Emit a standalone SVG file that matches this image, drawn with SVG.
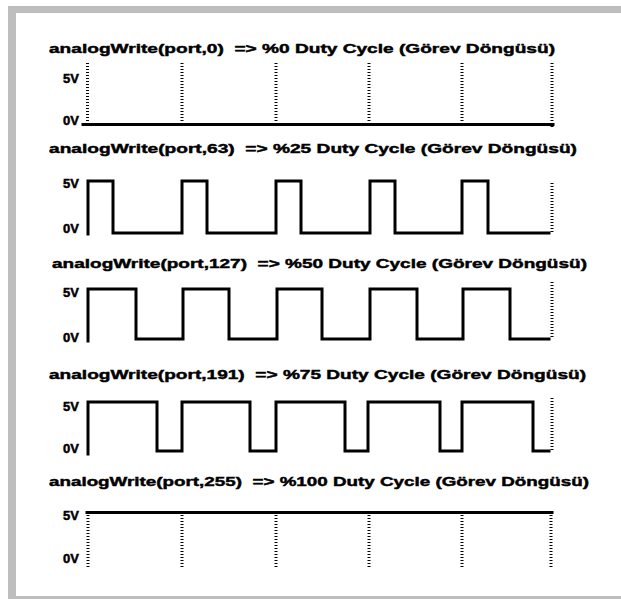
<svg xmlns="http://www.w3.org/2000/svg" width="621" height="599" viewBox="0 0 621 599">
<style>
.title{font-family:"Liberation Sans",Arial,sans-serif;font-weight:bold;font-size:13.5px;fill:#000;stroke:#000;stroke-width:0.45;white-space:pre}
.lbl{font-family:"Liberation Sans",Arial,sans-serif;font-weight:bold;font-size:13px;fill:#000;stroke:#000;stroke-width:0.5;text-anchor:end}
.wave{fill:none;stroke:#000;stroke-width:3;stroke-linejoin:miter;stroke-linecap:square}
.dot{fill:none;stroke:#000;stroke-width:3;stroke-dasharray:1 2}
</style>
<rect x="0" y="0" width="621" height="599" fill="#fff"/>
<rect x="8" y="6" width="613" height="593" fill="#bebebe"/>
<rect x="16" y="13" width="605" height="583" fill="#fff"/>

<g id="row0">
<text class="title" x="49" y="53" textLength="506" lengthAdjust="spacingAndGlyphs" xml:space="preserve">analogWrite(port,0)  =&gt; %0 Duty Cycle (Görev Döngüsü)</text>
<text class="lbl" x="79" y="83">5V</text>
<text class="lbl" x="79" y="125">0V</text>
<g class="dot">
<line x1="87.5" y1="63" x2="87.5" y2="124"/>
<line x1="182" y1="63" x2="182" y2="124"/>
<line x1="276" y1="63" x2="276" y2="124"/>
<line x1="369" y1="63" x2="369" y2="124"/>
<line x1="462" y1="63" x2="462" y2="124"/>
<line x1="552" y1="63" x2="552" y2="128"/>
</g>
<path class="wave" d="M83 124.5 H553"/>
</g>

<g id="row25">
<text class="title" x="49" y="153" textLength="528" lengthAdjust="spacingAndGlyphs" xml:space="preserve">analogWrite(port,63)  =&gt; %25 Duty Cycle (Görev Döngüsü)</text>
<text class="lbl" x="79" y="188">5V</text>
<text class="lbl" x="79" y="233">0V</text>
<line class="dot" x1="552" y1="183" x2="552" y2="233"/>
<path class="wave" d="M88 234 V181 H113 V233 H182 V181 H207 V233 H276 V181 H301 V233 H370 V181 H395 V233 H462 V181 H488 V233 H549"/>
</g>

<g id="row50">
<text class="title" x="52" y="268" textLength="535" lengthAdjust="spacingAndGlyphs" xml:space="preserve">analogWrite(port,127)  =&gt; %50 Duty Cycle (Görev Döngüsü)</text>
<text class="lbl" x="79" y="297">5V</text>
<text class="lbl" x="79" y="342">0V</text>
<line class="dot" x1="552" y1="282" x2="552" y2="339"/>
<path class="wave" d="M88 341 V289 H136 V339 H183 V289 H229 V339 H277 V289 H322 V339 H370 V289 H417 V339 H463 V289 H510 V339 H549"/>
</g>

<g id="row75">
<text class="title" x="49" y="379" textLength="537" lengthAdjust="spacingAndGlyphs" xml:space="preserve">analogWrite(port,191)  =&gt; %75 Duty Cycle (Görev Döngüsü)</text>
<text class="lbl" x="79" y="411">5V</text>
<text class="lbl" x="79" y="453">0V</text>
<line class="dot" x1="552" y1="398" x2="552" y2="451"/>
<path class="wave" d="M88 454 V402 H157 V451 H182 V402 H250 V451 H276 V402 H345 V451 H368 V402 H440 V451 H462 V402 H533 V451 H549"/>
</g>

<g id="row100">
<text class="title" x="49" y="486" textLength="540" lengthAdjust="spacingAndGlyphs" xml:space="preserve">analogWrite(port,255)  =&gt; %100 Duty Cycle (Görev Döngüsü)</text>
<text class="lbl" x="79" y="520">5V</text>
<text class="lbl" x="79" y="563">0V</text>
<g class="dot">
<line x1="88" y1="515" x2="88" y2="567"/>
<line x1="182" y1="515" x2="182" y2="567"/>
<line x1="276" y1="515" x2="276" y2="567"/>
<line x1="369" y1="515" x2="369" y2="567"/>
<line x1="462" y1="515" x2="462" y2="567"/>
<line x1="551" y1="515" x2="551" y2="567"/>
</g>
<path class="wave" d="M87 512.5 H552"/>
</g>
</svg>
